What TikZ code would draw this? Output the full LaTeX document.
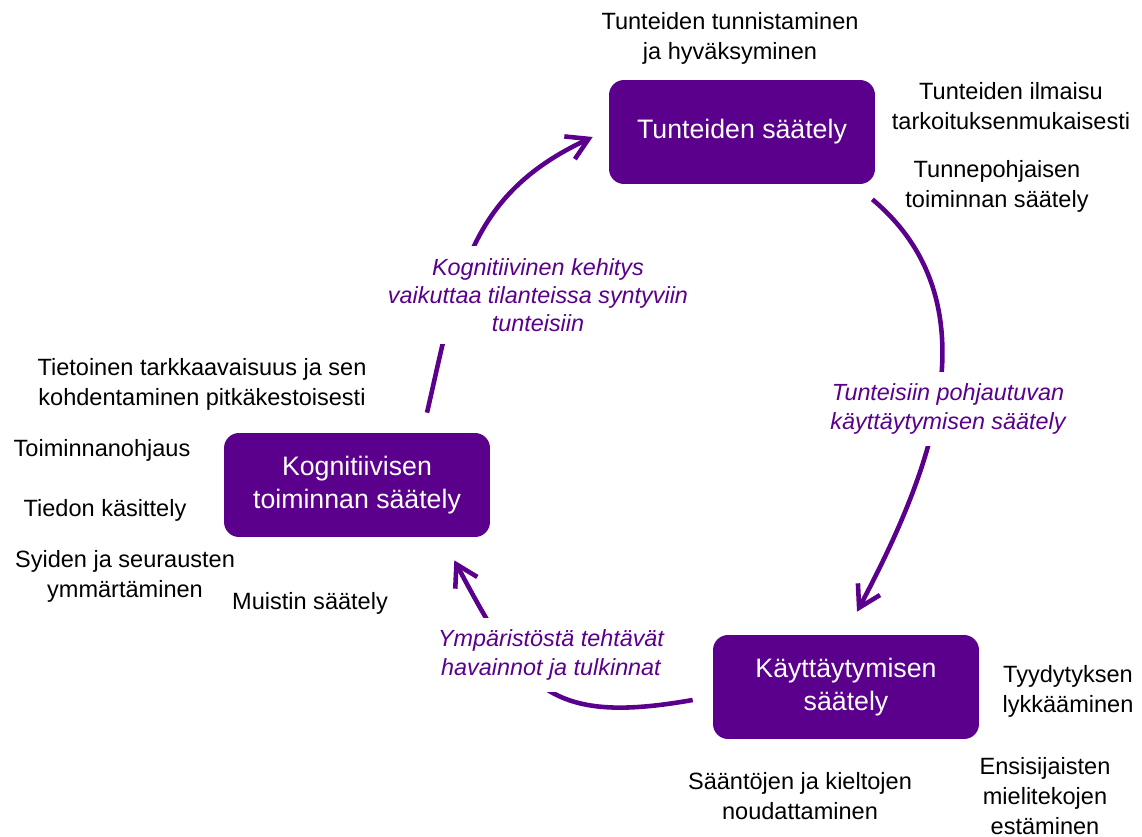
\documentclass[tikz,border=0pt]{standalone}
\usepackage{fontspec}
\setmainfont{Liberation Sans}
\usepackage{xcolor}
\usepackage{tikz}
\usetikzlibrary{arrows.meta}

\definecolor{regpurple}{RGB}{90,0,140}

\begin{document}
\begin{tikzpicture}[
  x=0.02cm, y=-0.02cm,
  box/.style={rectangle,rounded corners=0.3cm,fill=regpurple,text=white,
    minimum width=5.32cm,minimum height=2.08cm,align=center,
    font=\fontsize{15.2}{18.7}\selectfont},
  note/.style={align=center,font=\fontsize{13.4}{17}\selectfont},
  flowlabel/.style={align=center,fill=white,inner sep=7pt,text=regpurple,
    font=\fontsize{13.3}{16}\selectfont\itshape},
  flow/.style={draw=regpurple,line width=2.6pt,
    -{Straight Barb[length=4.2mm,width=5mm]}}
]
  \useasboundingbox (0,0) rectangle (1142,837);

  % the three regulation areas
  \node[box] (tunteet)  at (742,132) {Tunteiden säätely};
  \node[box] (kognitio) at (357,485) {Kognitiivisen\\toiminnan säätely};
  \node[box] (kaytos)   at (846,687) {Käyttäytymisen\\säätely};

  % cycle
  \draw[flow] ([shift={(-3,15)}]tunteet.south east) to[out=-40,in=62]
    ([shift={(11,-23)}]kaytos.north);
  \draw[flow] ([shift={(-20,13)}]kaytos.west) to[out=190,in=-62,looseness=1.35]
    ([shift={(-36,23)}]kognitio.south east);
  \draw[flow] ([shift={(70,-20)}]kognitio.north) to[out=77,in=205,looseness=1.1]
    ([shift={(-16,5)}]tunteet.west);

  \node[flowlabel] (lbl-kaytos)   at (948,409) {Tunteisiin pohjautuvan\\käyttäytymisen säätely};
  \node[flowlabel] (lbl-havainto) at (551,655) {Ympäristöstä tehtävät\\havainnot ja tulkinnat};
  \node[flowlabel] (lbl-kehitys)  at (538,295) {Kognitiivinen kehitys\\vaikuttaa tilanteissa syntyviin\\tunteisiin};

  % skills round the boxes
  \node[note] (tunnistus)  at (730,38)   {Tunteiden tunnistaminen\\ja hyväksyminen};
  \node[note] (ilmaisu)    at (1011,106) {Tunteiden ilmaisu\\tarkoituksenmukaisesti};
  \node[note] (tunnepohja) at (997,186)  {Tunnepohjaisen\\toiminnan säätely};

  \node[note] (tarkkaavaisuus) at (202,384) {Tietoinen tarkkaavaisuus ja sen\\kohdentaminen pitkäkestoisesti};
  \node[note] (ohjaus)  at (102,450) {Toiminnanohjaus};
  \node[note] (tieto)   at (105,510) {Tiedon käsittely};
  \node[note] (syyt)    at (125,576) {Syiden ja seurausten\\ymmärtäminen};
  \node[note] (muisti)  at (310,603) {Muistin säätely};

  \node[note] (lykkays)  at (1068,691) {Tyydytyksen\\lykkääminen};
  \node[note] (saannot)  at (800,796)  {Sääntöjen ja kieltojen\\noudattaminen};
  \node[note] (mieliteot) at (1045,796) {Ensisijaisten\\mielitekojen\\estäminen};
\end{tikzpicture}
\end{document}
